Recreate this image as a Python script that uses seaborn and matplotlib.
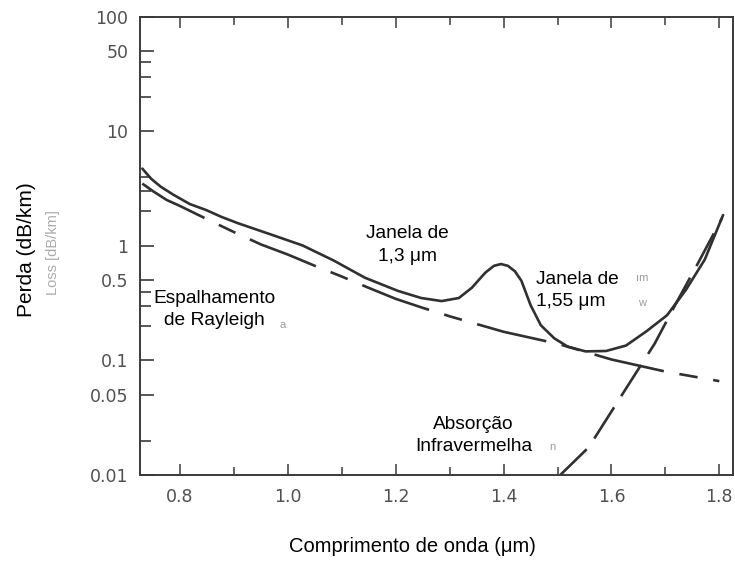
import matplotlib
matplotlib.use("Agg")
import matplotlib.pyplot as plt
import seaborn as sns
import pandas as pd
from matplotlib.ticker import FixedLocator, FixedFormatter, NullFormatter

# ---- data (wavelength in um, loss in dB/km) ----
total_wl = [0.73, 0.746, 0.764, 0.788, 0.818, 0.848, 0.877, 0.907, 0.966, 1.027,
            1.085, 1.143, 1.204, 1.247, 1.285, 1.317, 1.341, 1.366, 1.382, 1.395,
            1.408, 1.421, 1.433, 1.45, 1.469, 1.494, 1.519, 1.552, 1.59, 1.627,
            1.665, 1.703, 1.738, 1.773, 1.807]
total_loss = [4.73, 3.87, 3.29, 2.79, 2.32, 2.06, 1.79, 1.58, 1.27, 1.01,
              0.745, 0.527, 0.405, 0.351, 0.330, 0.351, 0.431, 0.584, 0.67, 0.695,
              0.67, 0.60, 0.496, 0.304, 0.203, 0.156, 0.132, 0.120, 0.121, 0.135,
              0.18, 0.248, 0.413, 0.76, 1.86]

rayleigh_wl = [0.73, 0.75, 0.775, 0.80, 0.85, 0.90, 0.95, 1.00, 1.05, 1.10,
               1.15, 1.20, 1.25, 1.30, 1.40, 1.50, 1.60, 1.70, 1.80]
rayleigh_loss = [3.5, 3.0, 2.52, 2.23, 1.71, 1.32, 1.03, 0.84, 0.67, 0.54,
                 0.43, 0.345, 0.288, 0.243, 0.178, 0.140, 0.102, 0.080, 0.066]

ir_wl = [1.505, 1.558, 1.632, 1.68, 1.72, 1.76, 1.805]
ir_loss = [0.010, 0.0175, 0.062, 0.14, 0.317, 0.70, 1.75]

y_major = [0.01, 0.05, 0.1, 0.5, 1, 10, 50, 100]
y_major_labels = ["0.01", "0.05", "0.1", "0.5", "1", "10", "50", "100"]
y_minor = [0.02, 0.2, 0.3, 0.4, 2, 3, 4, 20, 30, 40]
x_major = [0.8, 1.0, 1.2, 1.4, 1.6, 1.8]
x_major_labels = ["0.8", "1.0", "1.2", "1.4", "1.6", "1.8"]
x_minor = [0.9, 1.1, 1.3, 1.5, 1.7]

total_df = pd.DataFrame({"wl": total_wl, "loss": total_loss})
ray_df = pd.DataFrame({"wl": rayleigh_wl, "loss": rayleigh_loss})
ir_df = pd.DataFrame({"wl": ir_wl, "loss": ir_loss})

sns.set_theme(style="ticks")
plt.rcParams["font.family"] = ["Liberation Sans", "DejaVu Sans"]

fig = plt.figure(figsize=(7.35, 5.8), dpi=100)
ax = fig.add_axes([0.190, 0.181, 0.807, 0.790])

line_col = "#303030"
sns.lineplot(data=total_df, x="wl", y="loss", ax=ax, color=line_col, lw=1.9,
             sort=False, estimator=None)
ax.lines[-1].set_solid_joinstyle("round")
sns.lineplot(data=ray_df, x="wl", y="loss", ax=ax, color=line_col, lw=1.9,
             sort=False, estimator=None)
ax.lines[-1].set_dashes([27, 6, 7, 6])
sns.lineplot(data=ir_df, x="wl", y="loss", ax=ax, color=line_col, lw=1.9,
             sort=False, estimator=None)
ax.lines[-1].set_dashes([14, 5])

ax.set_yscale("log")
ax.set_ylim(0.01, 100)
ax.set_xlim(0.725, 1.825)

ax.yaxis.set_major_locator(FixedLocator(y_major))
ax.yaxis.set_major_formatter(FixedFormatter(y_major_labels))
ax.yaxis.set_minor_locator(FixedLocator(y_minor))
ax.yaxis.set_minor_formatter(NullFormatter())
ax.xaxis.set_major_locator(FixedLocator(x_major))
ax.xaxis.set_major_formatter(FixedFormatter(x_major_labels))
ax.xaxis.set_minor_locator(FixedLocator(x_minor))

tick_col = "#4a4a4a"
ax.tick_params(axis="y", which="major", direction="in", length=10, width=1.3,
               color=tick_col, pad=8, labelsize=12.5, labelcolor="#505050")
ax.tick_params(axis="y", which="minor", direction="in", length=8, width=1.3,
               color=tick_col)
ax.tick_params(axis="x", which="major", direction="in", length=8, width=1.2,
               color=tick_col, pad=9, labelsize=12.5, labelcolor="#505050",
               top=True)
ax.tick_params(axis="x", which="minor", direction="in", length=6, width=1.2,
               color=tick_col, top=True)
for lab in ax.get_xticklabels() + ax.get_yticklabels():
    lab.set_family("DejaVu Sans")

for s in ax.spines.values():
    s.set_color("#3a3a3a")
    s.set_linewidth(1.4)

ax.set_xlabel("")
ax.set_ylabel("")
fig.text(412 / 735, 1 - 547 / 580, "Comprimento de onda (\u03bcm)", ha="center",
         va="center", fontsize=14.5, color="black")
fig.text(27 / 735, 1 - 250 / 580, "Perda (dB/km)", ha="center", va="center",
         rotation=90, fontsize=15, color="black")
fig.text(53 / 735, 1 - 253 / 580, "Loss [dB/km]", ha="center", va="center",
         rotation=90, fontsize=10.5, color="#ababab")

txt = dict(fontsize=13.8, color="black", linespacing=1.4, transform=ax.transAxes)
ax.text(0.126, 0.362, "Espalhamento\nde Rayleigh", ha="center", va="center", **txt)
ax.text(0.452, 0.502, "Janela de\n1,3 \u03bcm", ha="center", va="center", **txt)
ax.text(0.669, 0.402, "Janela de\n1,55 \u03bcm", ha="left", va="center", **txt)
ax.text(0.563, 0.087, "Absor\u00e7\u00e3o\nInfravermelha", ha="center", va="center", **txt)

ghost = dict(fontsize=8, color="#9a9a9a", transform=ax.transAxes, ha="center",
             va="center")
ax.text(0.241, 0.328, "a", **ghost)
ax.text(0.847, 0.430, "\u0131m", **ghost)
ax.text(0.847, 0.376, "w", **ghost)
ax.text(0.696, 0.061, "n", **ghost)

fig.savefig("out.png", dpi=100)
